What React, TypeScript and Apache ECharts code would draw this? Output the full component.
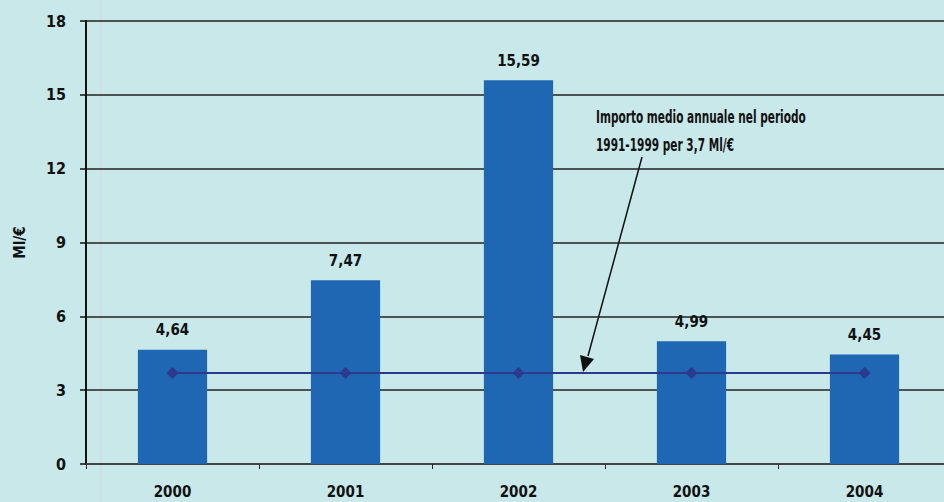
import React, { useEffect, useRef } from "react";
import * as echarts from "echarts";

const categories = ["2000", "2001", "2002", "2003", "2004"];
const values = [4.64, 7.47, 15.59, 4.99, 4.45];
const average = [3.7, 3.7, 3.7, 3.7, 3.7];
const yTicks = [0, 3, 6, 9, 12, 15, 18];
const annotationLines = ["Importo medio annuale nel periodo", "1991-1999 per 3,7 Ml/€"];

const FONT = "'Liberation Sans Narrow', 'DejaVu Sans Condensed', sans-serif";

export default function App() {
  const ref = useRef<HTMLDivElement>(null);
  useEffect(() => {
    if (!ref.current) return;
    const chart = echarts.init(ref.current, undefined, { renderer: "svg" });
    chart.setOption({
      animation: false,
      backgroundColor: "#C8E8EA",
      textStyle: { fontFamily: FONT },
      grid: { left: 86, right: 0, top: 21, bottom: 38 },
      xAxis: {
        type: "category",
        data: categories,
        axisLine: { lineStyle: { color: "#444", width: 2 } },
        axisTick: { show: true, length: 5, lineStyle: { color: "#222", width: 1 } },
        axisLabel: { color: "#111", fontSize: 15, fontWeight: "bold", margin: 20, fontFamily: FONT },
      },
      yAxis: {
        type: "value",
        min: yTicks[0],
        max: yTicks[yTicks.length - 1],
        interval: 3,
        name: "Ml/€",
        nameLocation: "middle",
        nameGap: 59,
        nameTextStyle: { color: "#111", fontSize: 15, fontWeight: "bold", fontFamily: FONT },
        axisLine: { show: true, lineStyle: { color: "#111", width: 2 } },
        axisTick: { show: true, length: 6, lineStyle: { color: "#111", width: 1.5 } },
        axisLabel: { color: "#111", fontSize: 16, fontWeight: "bold", margin: 20, fontFamily: FONT },
        splitLine: { lineStyle: { color: "#222", width: 1.5 } },
      },
      series: [
        {
          type: "bar",
          data: values,
          barWidth: "40%",
          itemStyle: { color: "#1F67B3" },
          label: {
            show: true,
            position: "top",
            distance: 12,
            color: "#111",
            fontSize: 15,
            fontWeight: "bold",
            fontFamily: FONT,
            formatter: (p: any) => p.value.toFixed(2).replace(".", ","),
          },
          z: 2,
        },
        {
          type: "line",
          data: average,
          symbol: "diamond",
          symbolSize: 12,
          itemStyle: { color: "#2B3A8E" },
          lineStyle: { color: "#2B3A8E", width: 2 },
          z: 3,
        },
      ],
      graphic: [
        { type: "line", shape: { x1: 101, y1: 0, x2: 101, y2: 502 }, style: { stroke: "#D8D8D8", lineWidth: 1 }, z: 0 },
        {
          type: "text",
          x: 596,
          y: 103,
          scaleX: 0.69,
          style: {
            text: annotationLines.join("\n"),
            fontSize: 17,
            fontWeight: "bold",
            lineHeight: 28,
            fill: "#111",
            fontFamily: FONT,
          },
        },
        { type: "line", shape: { x1: 642, y1: 157, x2: 588, y2: 356 }, style: { stroke: "#111", lineWidth: 1.5 } },
        { type: "polygon", shape: { points: [[583, 372], [580, 355], [594, 359]] }, style: { fill: "#111" } },
      ],
    });
    return () => chart.dispose();
  }, []);
  return <div ref={ref} style={{ position: "fixed", left: 0, top: 0, width: 951, height: 502 }} />;
}
